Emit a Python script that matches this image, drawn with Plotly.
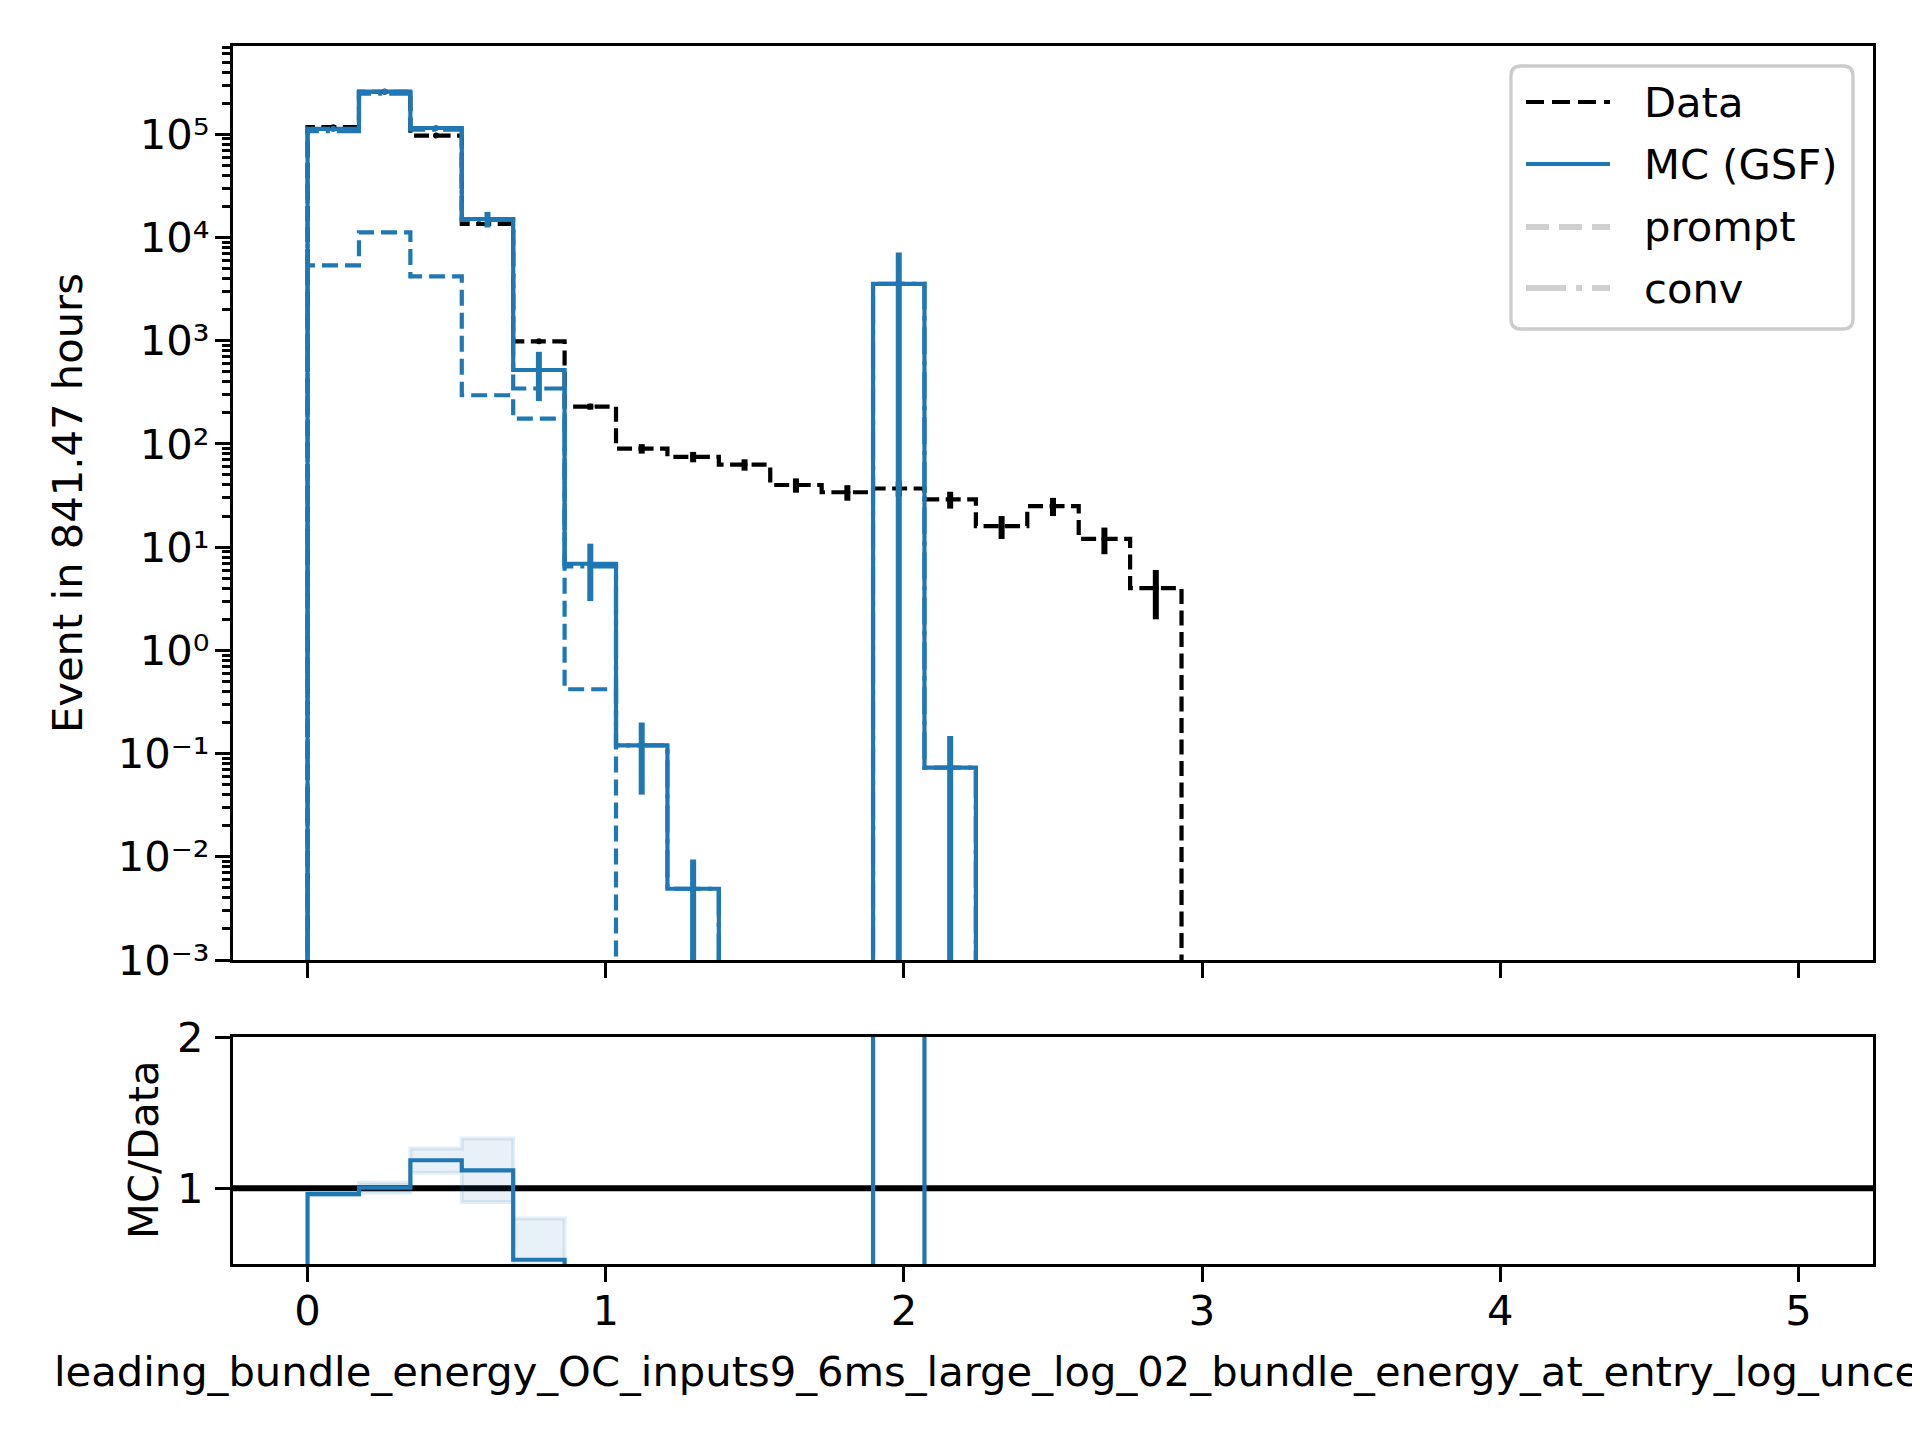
import numpy as np
import plotly.graph_objects as go

# ---------------- data ----------------
n_bins = 29
x_min, x_max = 0.0, 5.0

data_counts = [117000, 258000, 97000, 13500, 985, 230, 90, 75, 63, 40,
               34, 37, 29, 16, 25, 12, 4, 0, 0, 0,
               0, 0, 0, 0, 0, 0, 0, 0, 0]
mc_total = [112500, 259000, 115000, 15100, 520, 6.9, 0.12, 0.0049, 0, 0,
            0, 3550, 0.073, 0, 0, 0, 0, 0, 0, 0,
            0, 0, 0, 0, 0, 0, 0, 0, 0]
mc_err = [1500, 2500, 2000, 2600, 260, 3.9, 0.08, 0.0045, 0, 0,
          0, 3600, 0.075, 0, 0, 0, 0, 0, 0, 0,
          0, 0, 0, 0, 0, 0, 0, 0, 0]
mc_prompt = [5370, 11200, 4200, 296, 176, 0.42, 0, 0, 0, 0,
             0, 0, 0, 0, 0, 0, 0, 0, 0, 0,
             0, 0, 0, 0, 0, 0, 0, 0, 0]
mc_conv = [107000, 247800, 110800, 14800, 344, 6.5, 0.12, 0.0049, 0, 0,
           0, 3550, 0.073, 0, 0, 0, 0, 0, 0, 0,
           0, 0, 0, 0, 0, 0, 0, 0, 0]
ratio_band_lo = [0.952, 0.971, 1.103, 0.91, 0.26]
ratio_band_hi = [0.972, 1.037, 1.263, 1.329, 0.80]

x_ticks = [0, 1, 2, 3, 4, 5]
y_exps = [-3, -2, -1, 0, 1, 2, 3, 4, 5]
ratio_ticks = [1, 2]

legend_labels = ["Data", "MC (GSF)", "prompt", "conv"]
x_label = "leading_bundle_energy_OC_inputs9_6ms_large_log_02_bundle_energy_at_entry_log_unce"
y_label = "Event in 841.47 hours"
ratio_label = "MC/Data"

# ---------------- styling / geometry ----------------
PAGE_W, PAGE_H = 1920, 1440
OFF = 8  # default body margin of the html page
W, H = PAGE_W - OFF, PAGE_H - OFF
AX_L, AX_R, AX_T, AX_B = 233, 1873, 46, 1264  # plot area in page pixels
L, T = AX_L - OFF, AX_T - OFF
R, B = PAGE_W - AX_R, PAGE_H - AX_B
BLUE = "#1f77b4"
GRAY = "#d0d0d0"
FONT = "DejaVu Sans"
FS = 41.67
LW = 4.2
SPINE = 3.3


def px_x(px):
    return (px - AX_L) / (AX_R - AX_L)


def px_y(py):
    return (AX_B - py) / (AX_B - AX_T)


edges = np.linspace(x_min, x_max, n_bins + 1)
centers = 0.5 * (edges[:-1] + edges[1:])
FLOOR = 1e-30


def step_xy(vals, floor, log=True):
    v = []
    for a in vals:
        if a is None:
            v.append(None)
        elif log and a <= 0:
            v.append(floor)
        else:
            v.append(a)
    x = [edges[0]] + list(edges)
    y = [floor] + v + [floor]
    return x, y


fig = go.Figure()

# Data histogram (dashed black)
x, y = step_xy(data_counts, FLOOR)
fig.add_trace(go.Scatter(x=x, y=y, mode="lines", line_shape="hv",
                         line=dict(color="black", width=LW, dash="15px,6.5px"),
                         xaxis="x2", yaxis="y2", showlegend=False, name="Data"))
# MC total
x, y = step_xy(mc_total, FLOOR)
fig.add_trace(go.Scatter(x=x, y=y, mode="lines", line_shape="hv",
                         line=dict(color=BLUE, width=LW),
                         xaxis="x2", yaxis="y2", showlegend=False, name="MC (GSF)"))
# prompt
x, y = step_xy(mc_prompt, FLOOR)
fig.add_trace(go.Scatter(x=x, y=y, mode="lines", line_shape="hv",
                         line=dict(color=BLUE, width=LW, dash="16px,7px"),
                         xaxis="x2", yaxis="y2", showlegend=False, name="prompt"))
# conv
x, y = step_xy(mc_conv, FLOOR)
fig.add_trace(go.Scatter(x=x, y=y, mode="lines", line_shape="hv",
                         line=dict(color=BLUE, width=LW, dash="27px,7px,4px,7px"),
                         xaxis="x2", yaxis="y2", showlegend=False, name="conv"))

# Data error bars (sqrt N)
d_y = [v if v > 0 else None for v in data_counts]
d_e = [float(np.sqrt(v)) if v > 0 else 0 for v in data_counts]
fig.add_trace(go.Scatter(x=centers, y=d_y, mode="markers", marker=dict(size=0, color="black"),
                         error_y=dict(type="data", array=d_e, arrayminus=d_e, symmetric=False,
                                      thickness=6, width=0, color="black"),
                         xaxis="x2", yaxis="y2", showlegend=False, name="Data err"))
# MC error bars
m_y = [v if v > 0 else None for v in mc_total]
fig.add_trace(go.Scatter(x=centers, y=m_y, mode="markers", marker=dict(size=0, color=BLUE),
                         error_y=dict(type="data", array=mc_err, arrayminus=mc_err, symmetric=False,
                                      thickness=6, width=0, color=BLUE),
                         xaxis="x2", yaxis="y2", showlegend=False, name="MC err"))

# ---------------- ratio panel ----------------
nb = len(ratio_band_lo)
bx, by = [], []
for i in range(nb):
    bx += [edges[i], edges[i + 1]]
    by += [ratio_band_hi[i], ratio_band_hi[i]]
for i in reversed(range(nb)):
    bx += [edges[i + 1], edges[i]]
    by += [ratio_band_lo[i], ratio_band_lo[i]]
fig.add_trace(go.Scatter(x=bx, y=by, mode="lines", fill="toself",
                         fillcolor="rgba(31,119,180,0.1)",
                         line=dict(color="rgba(31,119,180,0.12)", width=4),
                         xaxis="x", yaxis="y", showlegend=False, name="band"))

ratio = [m / d if d > 0 else None for m, d in zip(mc_total, data_counts)]
x, y = step_xy(ratio, 0.0, log=False)
fig.add_trace(go.Scatter(x=x, y=y, mode="lines", line_shape="hv",
                         line=dict(color=BLUE, width=LW),
                         xaxis="x", yaxis="y", showlegend=False, name="ratio"))

# ---------------- axes ----------------
main_bot = px_y(960)
ratio_top = px_y(1037)
ymax_log = 5.855

minor_vals = []
for e in range(-3, 6):
    for k in range(2, 10):
        v = k * 10.0 ** e
        if np.log10(v) <= ymax_log:
            minor_vals.append(v)

SUP = str.maketrans("-0123456789", "\u207b\u2070\u00b9\u00b2\u00b3\u2074\u2075\u2076\u2077\u2078\u2079")


def fmt_exp(e):
    return "10" + str(e).translate(SUP)


axis_common = dict(showline=True, linecolor="black", linewidth=SPINE, mirror=True,
                   ticks="outside", ticklen=15, tickwidth=SPINE, tickcolor="black",
                   showgrid=False, zeroline=False,
                   tickfont=dict(family=FONT, size=FS, color="black"))

fig.update_layout(
    width=W, height=H,
    margin=dict(l=L, r=R, t=T, b=B, pad=0),
    paper_bgcolor="white", plot_bgcolor="white",
    font=dict(family=FONT, size=FS, color="black"),
    xaxis=dict(domain=[0, 1], anchor="y", range=[-0.25, 5.25],
               tickmode="array", tickvals=x_ticks, ticktext=[str(t) for t in x_ticks],
               ticklabelstandoff=-7, **axis_common),
    yaxis=dict(domain=[0, ratio_top], anchor="x", range=[0.5, 2],
               tickmode="array", tickvals=ratio_ticks, ticktext=[str(t) for t in ratio_ticks],
               ticklabelstandoff=3, **axis_common),
    xaxis2=dict(domain=[0, 1], anchor="y2", range=[-0.25, 5.25], matches="x",
                tickmode="array", tickvals=x_ticks, showticklabels=False, **axis_common),
    yaxis2=dict(domain=[main_bot, 1], anchor="x2", type="log", range=[-3, ymax_log],
                tickmode="array", tickvals=[10.0 ** e for e in y_exps],
                ticktext=[fmt_exp(e) for e in y_exps],
                ticklabelstandoff=-3,
                minor=dict(tickmode="array", tickvals=minor_vals, ticks="outside",
                           ticklen=8, tickwidth=2.5, tickcolor="black", showgrid=False),
                **axis_common),
)

# horizontal reference line at 1 in ratio
fig.add_shape(type="line", xref="paper", yref="y", x0=0, x1=1, y0=1, y1=1,
              line=dict(color="black", width=6), layer="below")

# ---------------- titles ----------------
fig.add_annotation(text=y_label, xref="paper", yref="paper",
                   x=px_x(67), y=px_y(503), textangle=-90, showarrow=False,
                   xanchor="center", yanchor="middle",
                   font=dict(family=FONT, size=FS, color="black"))
fig.add_annotation(text=ratio_label, xref="paper", yref="paper",
                   x=px_x(143), y=px_y(1150), textangle=-90, showarrow=False,
                   xanchor="center", yanchor="middle",
                   font=dict(family=FONT, size=FS, color="black"))
fig.add_annotation(text=x_label, xref="paper", yref="paper",
                   x=px_x(52), y=px_y(1371), showarrow=False,
                   xanchor="left", yanchor="middle",
                   font=dict(family=FONT, size=FS, color="black"))

# ---------------- legend (drawn) ----------------
bx0, bx1, by0, by1 = px_x(1511), px_x(1853), px_y(66), px_y(329)
rx, ry = 10 / (AX_R - AX_L), 10 / (AX_B - AX_T)
path = (f"M {bx0+rx},{by0} L {bx1-rx},{by0} Q {bx1},{by0} {bx1},{by0-ry} "
        f"L {bx1},{by1+ry} Q {bx1},{by1} {bx1-rx},{by1} "
        f"L {bx0+rx},{by1} Q {bx0},{by1} {bx0},{by1+ry} "
        f"L {bx0},{by0-ry} Q {bx0},{by0} {bx0+rx},{by0} Z")
fig.add_shape(type="path", path=path, xref="paper", yref="paper",
              fillcolor="rgba(255,255,255,0.8)", line=dict(color="#cccccc", width=3.3),
              layer="above")
row_y = [102, 164, 227, 288]
styles = [dict(color="black", width=LW, dash="18px,8px"),
          dict(color=BLUE, width=LW),
          dict(color=GRAY, width=6.2, dash="23px,10px"),
          dict(color=GRAY, width=6.2, dash="40px,10px,6px,10px")]
for lab, yy, st in zip(legend_labels, row_y, styles):
    fig.add_shape(type="line", xref="paper", yref="paper",
                  x0=px_x(1526), x1=px_x(1610), y0=px_y(yy), y1=px_y(yy),
                  line=st, layer="above")
    fig.add_annotation(text=lab, xref="paper", yref="paper",
                       x=px_x(1642), y=px_y(yy), showarrow=False,
                       xanchor="left", yanchor="middle",
                       font=dict(family=FONT, size=FS, color="black"))

fig.write_html("out.html")
